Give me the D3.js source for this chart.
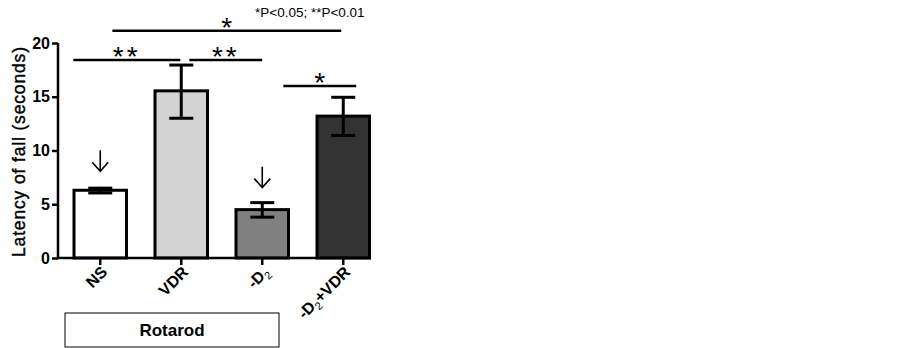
<!DOCTYPE html>
<html><head><meta charset="utf-8">
<script src="https://cdn.jsdelivr.net/npm/d3@7"></script>
<style>body{margin:0;background:#fff}svg{display:block}text{font-family:"Liberation Sans",Arial,sans-serif}</style>
</head><body>
<svg id="c" width="902" height="348"></svg>
<script>
const categories = ["NS", "VDR", "-D2", "-D2+VDR"];
const means = [6.3, 15.55, 4.5, 13.2];
const errUpper = [6.5, 17.95, 5.15, 14.95];
const errLower = [6.05, 13.0, 3.8, 11.4];
const fills = ["#ffffff", "#d3d3d3", "#808080", "#333333"];
const yTicks = [0, 5, 10, 15, 20];
const sigBrackets = [
  {from: 0.15, to: 2.975, level: 30.7, label: "*"},
  {from: -0.333, to: 0.988, level: 60, label: "**"},
  {from: 1.1, to: 2.0, level: 60, label: "**"},
  {from: 2.26, to: 3.16, level: 86, label: "*"}
];
const arrowCats = [0, 2];

const svg = d3.select("#c");
const x = d3.scaleBand().domain(categories).range([58, 385.5]).paddingInner(0.315).paddingOuter(0.179);
const y = d3.scaleLinear().domain([0, 20]).range([258, 43]);
const bw = x.bandwidth();
const cx = c => x(c) + bw / 2;

// bars
svg.selectAll("rect.bar").data(categories).enter().append("rect")
  .attr("x", d => x(d) + 1.5).attr("width", bw - 3)
  .attr("y", (d, i) => y(means[i])).attr("height", (d, i) => y(0) - y(means[i]))
  .attr("fill", (d, i) => fills[i]).attr("stroke", "#000").attr("stroke-width", 3);

// error bars
const eb = svg.append("g").attr("stroke", "#000").attr("stroke-width", 3);
categories.forEach((c, i) => {
  eb.append("line").attr("x1", cx(c)).attr("x2", cx(c)).attr("y1", y(errUpper[i])).attr("y2", y(errLower[i]));
  [errUpper[i], errLower[i]].forEach(v => eb.append("line").attr("x1", cx(c) - 12).attr("x2", cx(c) + 12).attr("y1", y(v)).attr("y2", y(v)));
});

// axes
const yAxis = svg.append("g").attr("transform", "translate(58,0)")
  .call(d3.axisLeft(y).tickValues(yTicks).tickSize(6).tickPadding(2));
yAxis.select(".domain").attr("stroke-width", 2.5).attr("d", `M0,${y(20)}V${y(0)}`);
yAxis.selectAll(".tick line").attr("stroke-width", 2.5);
yAxis.selectAll("text").attr("font-size", 16).attr("font-weight", "bold").attr("fill", "#000")
  .style("font-family", "'Liberation Sans',Arial,sans-serif");

const xAxis = svg.append("g").attr("transform", `translate(0,${y(0)})`)
  .call(d3.axisBottom(x).tickSize(7).tickFormat(""));
xAxis.select(".domain").attr("stroke-width", 2.5).attr("d", `M58,0H${x(categories[3]) + bw}`);
xAxis.selectAll(".tick line").attr("stroke-width", 2.5);

// x labels rotated
const lab = svg.append("g");
categories.forEach(c => {
  const t = lab.append("text").attr("transform", `translate(${cx(c) + 8},${y(0) + 15}) rotate(-45)`)
    .attr("text-anchor", "end").attr("font-size", 16).attr("font-weight", "bold");
  const m = c.match(/^-D2(.*)$/);
  if (m) {
    t.append("tspan").text("-D");
    t.append("tspan").text("2").attr("font-size", 11).attr("font-weight", "normal").attr("dy", 4);
    if (m[1]) t.append("tspan").text(m[1]).attr("dy", -4);
  } else t.text(c);
});

// y label
svg.append("text").attr("transform", "translate(25,152) rotate(-90)").attr("text-anchor", "middle")
  .attr("font-size", 17.5).attr("font-weight", "normal").attr("stroke", "#000").attr("stroke-width", 0.4)
  .attr("textLength", 210).text("Latency of fall (seconds)");

// significance brackets (from/to in band units relative to category centers)
const step = x.step();
const ux = u => cx(categories[0]) + u * step;
sigBrackets.forEach(b => {
  svg.append("line").attr("x1", ux(b.from)).attr("x2", ux(b.to)).attr("y1", b.level).attr("y2", b.level)
    .attr("stroke", "#000").attr("stroke-width", 2.5);
  svg.append("text").attr("x", (ux(b.from) + ux(b.to)) / 2).attr("y", b.level + 6)
    .attr("text-anchor", "middle").attr("font-size", 28).attr("letter-spacing", b.label.length > 1 ? 3 : 0)
    .text(b.label);
});

svg.append("text").attr("x", 255).attr("y", 17).attr("font-size", 13.5).text("*P<0.05; **P<0.01");

// arrows
arrowCats.forEach(i => {
  const c = categories[i];
  const bottom = y(means[i]) - (i === 0 ? 19 : 22);
  const top = bottom - 21;
  svg.append("path").attr("d", `M${cx(c)},${top}V${bottom}M${cx(c) - 8},${bottom - 9}L${cx(c)},${bottom}L${cx(c) + 8},${bottom - 9}`)
    .attr("fill", "none").attr("stroke", "#000").attr("stroke-width", 1.6);
});

// Rotarod box
svg.append("rect").attr("x", 65).attr("y", 313).attr("width", 214).attr("height", 34)
  .attr("fill", "#fff").attr("stroke", "#000").attr("stroke-width", 1);
svg.append("text").attr("x", 172).attr("y", 336).attr("text-anchor", "middle")
  .attr("font-size", 17).attr("font-weight", "bold").text("Rotarod");
</script>
</body></html>
